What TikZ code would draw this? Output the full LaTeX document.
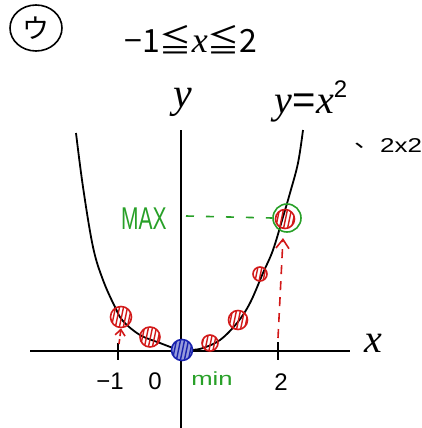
\documentclass[tikz,border=0pt]{standalone}
\usepackage{fontspec}
\setmainfont{Liberation Sans}
\newfontfamily\cjk{Noto Sans CJK JP}
\newfontfamily\hvar{Liberation Serif}
\usetikzlibrary{arrows.meta,shapes.geometric}
\definecolor{hred}{RGB}{210,25,25}
\definecolor{hgreen}{RGB}{40,160,40}
\definecolor{hblue}{RGB}{25,35,175}
\newcommand{\hv}[1]{{\hvar\itshape #1}}
\tikzset{
  hdot/.style={circle, draw=#1, inner sep=0pt, line width=1.6pt,
    path picture={\foreach \d in {-10,-6,-2,2,6}{\draw[#1, line width=1.4pt] ([xshift=\d pt, yshift=-12pt]path picture bounding box.center) -- ++(5pt,24pt);}}},
  axisline/.style={line width=1.9pt, black},
  curveline/.style={line width=1.8pt, black},
  lbl/.style={inner sep=0pt, font=\fontsize{24}{26}\selectfont},
  reddash/.style={hred, line width=1.6pt, dash pattern=on 9pt off 7pt},
  greendash/.style={hgreen, line width=1.6pt, dash pattern=on 8pt off 12pt},
}
\begin{document}
\begin{tikzpicture}[x=1pt,y=-1pt]
\useasboundingbox (0,0) rectangle (422,428);
% title
\node[draw, ellipse, line width=1.6pt, minimum width=52pt, minimum height=46pt, inner sep=0pt, font=\cjk\fontsize{27}{29}\selectfont] (tag) at (36,28) {ウ};
\node[inner sep=0pt, font=\cjk\fontsize{32}{34}\selectfont] (range) at (191,40) {−1≦{\fontsize{36}{36}\selectfont\hv{x}}≦2};
% axes
\coordinate (xl) at (30,351);
\coordinate (xr) at (350,351);
\coordinate (yb) at (181,428);
\coordinate (yt) at (181,130);
\draw[axisline] (xl) -- (xr);
\draw[axisline] (yb) -- (yt);
\node[lbl, font=\fontsize{40}{42}\selectfont] (xlab) at (373,343) {\hv{x}};
\node[lbl, font=\fontsize{42}{44}\selectfont] (ylab) at (183,102) {\hv{y}};
% ticks
\coordinate (tm1a) at (118,343); \coordinate (tm1b) at (118,360);
\coordinate (t2a) at (278,342); \coordinate (t2b) at (278,360);
\draw[axisline] (tm1a) -- (tm1b);
\draw[axisline] (t2a) -- (t2b);
\node[lbl] (lm1) at (110,381) {−1};
\node[lbl] (l0) at (155,381) {0};
\node[lbl] (l2) at (281,382) {2};
% curve
\draw[curveline] plot[smooth, tension=0.6] coordinates {(76,133) (83,187) (93,247) (103,280) (115,307) (123,321) (140,335) (160,343) (173,348) (181,351) (192,350) (203,348) (220,340) (237,323) (250,303) (263,273) (273,250) (283,217) (290,193) (298,163) (303,130)};
\node[lbl, font=\fontsize{40}{42}\selectfont] (eq) at (311,101) {\hv{y}=\hv{x}\raisebox{16pt}{\fontsize{24}{24}\selectfont 2}};
\node[inner sep=0pt, font=\fontsize{20}{22}\selectfont, xscale=1.3] (note) at (388,146) {\raisebox{5pt}{\cjk 、}2x2};
% points
\node[hdot=hred, minimum size=21pt] (p1) at (121,317) {};
\node[hdot=hred, minimum size=20pt] (p2) at (150,337) {};
\node[hdot=hred, minimum size=16pt] (p3) at (210,343) {};
\node[hdot=hred, minimum size=19pt] (p4) at (238,320) {};
\node[hdot=hred, minimum size=14pt] (p5) at (260,274) {};
\node[hdot=hred, minimum size=19pt] (p6) at (285,219) {};
\node[hdot=hblue, minimum size=21pt, fill=hblue!45] (p0) at (182,350) {};
\node[circle, draw=hgreen, line width=1.6pt, minimum size=28pt, inner sep=0pt] (mx) at (287,218) {};
% labels
\node[lbl, hgreen, font=\fontsize{21}{22}\selectfont, yscale=1.5] (max) at (144,219) {MAX};
\node[lbl, hgreen, font=\fontsize{19}{20}\selectfont, xscale=1.35] (min) at (212,379) {min};
% dashed guides
\coordinate (yaxmax) at (186,216);
\draw[greendash] (yaxmax) -- (mx.west);
\coordinate (a2) at (278,338);
\coordinate (a2t) at (283,238);
\draw[reddash, -{Straight Barb[length=9pt, width=13pt]}] (a2) -- (a2t);
\coordinate (am1) at (119,344);
\draw[hred, line width=1.6pt, dash pattern=on 5pt off 3pt, -{Straight Barb[length=6pt, width=10pt]}] (am1) -- (p1.south);
\end{tikzpicture}
\end{document}
